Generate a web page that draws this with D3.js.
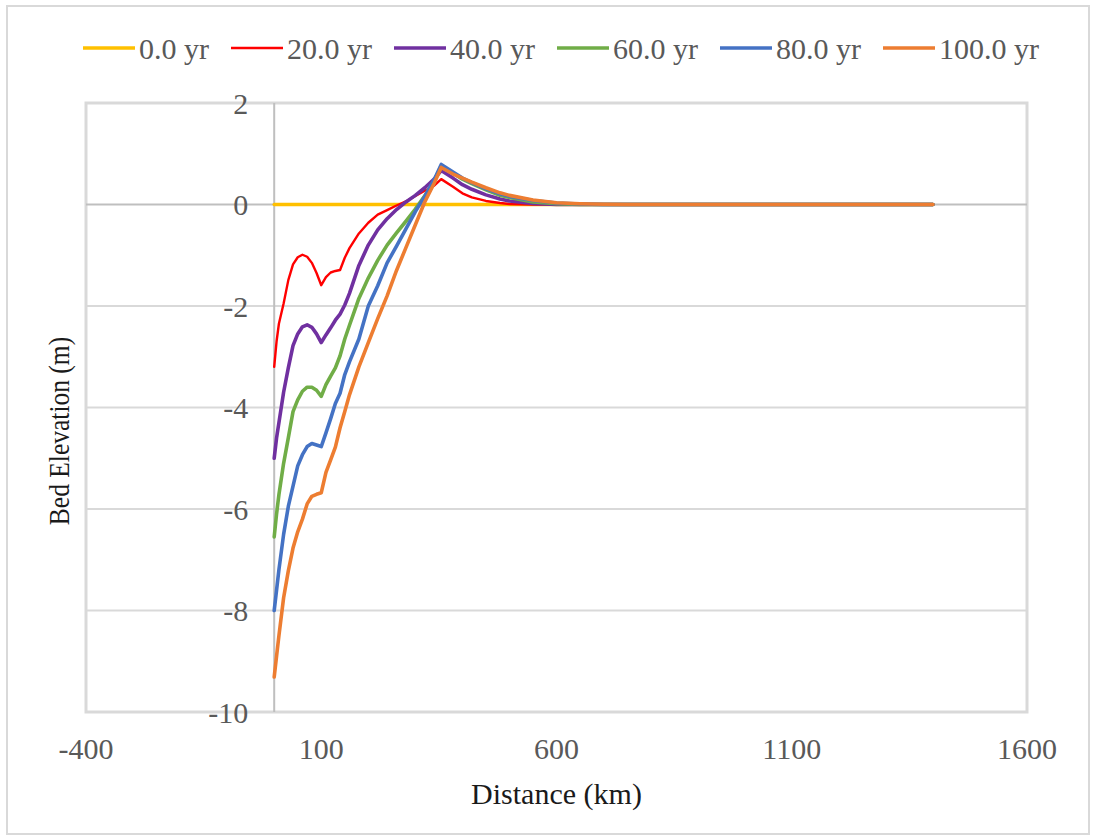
<!DOCTYPE html>
<html><head><meta charset="utf-8">
<script src="https://cdn.jsdelivr.net/npm/d3@7"></script>
<style>
body{margin:0;background:#fff}
svg{display:block}
</style>
</head><body><svg id="c" width="1096" height="840"></svg>
<script>
// ---- data ----
const distance = [0,5,10,20,30,40,50,60,70,80,90,100,110,120,130,140,150,160,180,200,220,240,260,280,300,320,340,355,380,400,420,450,480,500,550,600,650,700,750,800,900,1000,1100,1200,1300,1400];
const seriesNames = ["0.0 yr","20.0 yr","40.0 yr","60.0 yr","80.0 yr","100.0 yr"];
const yr0   = [0,0,0,0,0,0,0,0,0,0,0,0,0,0,0,0,0,0,0,0,0,0,0,0,0,0,0,0,0,0,0,0,0,0,0,0,0,0,0,0,0,0,0,0,0,0];
const yr20  = [-3.2,-2.7,-2.35,-1.95,-1.49,-1.18,-1.04,-0.99,-1.03,-1.15,-1.35,-1.59,-1.43,-1.34,-1.31,-1.29,-1.05,-0.86,-0.57,-0.36,-0.2,-0.11,-0.02,0.06,0.17,0.27,0.37,0.5,0.35,0.22,0.14,0.07,0.03,0.01,0,0,0,0,0,0,0,0,0,0,0,0];
const yr40  = [-5.0,-4.6,-4.3,-3.7,-3.22,-2.78,-2.55,-2.41,-2.37,-2.42,-2.55,-2.72,-2.57,-2.43,-2.28,-2.16,-1.98,-1.75,-1.2,-0.8,-0.5,-0.28,-0.1,0.05,0.18,0.33,0.5,0.67,0.52,0.39,0.3,0.19,0.11,0.07,0.02,0,0,0,0,0,0,0,0,0,0,0];
const yr60  = [-6.55,-6.1,-5.72,-5.1,-4.6,-4.08,-3.85,-3.68,-3.6,-3.6,-3.66,-3.78,-3.55,-3.38,-3.22,-2.98,-2.65,-2.38,-1.85,-1.45,-1.1,-0.8,-0.56,-0.33,-0.09,0.17,0.47,0.76,0.62,0.5,0.41,0.29,0.18,0.14,0.05,0.015,0,0,0,0,0,0,0,0,0,0];
const yr80  = [-8.0,-7.6,-7.2,-6.5,-5.95,-5.55,-5.15,-4.93,-4.77,-4.71,-4.74,-4.77,-4.5,-4.22,-3.92,-3.72,-3.35,-3.1,-2.65,-2.0,-1.6,-1.15,-0.82,-0.48,-0.14,0.16,0.49,0.79,0.64,0.52,0.43,0.31,0.21,0.16,0.08,0.03,0.01,0,0,0,0,0,0,0,0,0];
const yr100 = [-9.31,-8.9,-8.5,-7.75,-7.22,-6.77,-6.45,-6.2,-5.9,-5.75,-5.71,-5.68,-5.28,-5.03,-4.78,-4.4,-4.08,-3.75,-3.2,-2.72,-2.25,-1.8,-1.3,-0.85,-0.4,0.05,0.42,0.73,0.6,0.52,0.44,0.33,0.23,0.18,0.09,0.035,0.015,0.005,0,0,0,0,0,0,0,0];
const seriesValues = [yr0, yr20, yr40, yr60, yr80, yr100];
const xTicks = [-400,100,600,1100,1600];
const yTicks = [2,0,-2,-4,-6,-8,-10];
const xTitle = "Distance (km)";
const yTitle = "Bed Elevation (m)";

// ---- styles ----
const FONT = "Liberation Serif";
const colors = ["#FFC000","#FF0000","#7030A0","#70AD47","#4472C4","#ED7D31"];
const widths = [3.5,2.4,3.6,3.6,3.6,3.6];

const svg = d3.select("#c");
svg.append("rect").attr("x",7).attr("y",6).attr("width",1082).attr("height",828)
  .attr("fill","#fff").attr("stroke","#d9d9d9").attr("stroke-width",2);

const x = d3.scaleLinear().domain([-400,1600]).range([86,1027]);
const y = d3.scaleLinear().domain([-10,2]).range([712,103]);

// gridlines
svg.append("g").selectAll("line").data(yTicks.filter(v=>v!==0 && v!==2 && v!==-10)).join("line")
  .attr("x1",x(-400)).attr("x2",x(1600)).attr("y1",d=>y(d)).attr("y2",d=>y(d))
  .attr("stroke","#d9d9d9").attr("stroke-width",2);
// plot border
svg.append("rect").attr("x",x(-400)).attr("y",y(2)).attr("width",x(1600)-x(-400)).attr("height",y(-10)-y(2))
  .attr("fill","none").attr("stroke","#d9d9d9").attr("stroke-width",3);
// axis lines
svg.append("line").attr("x1",x(-400)).attr("x2",x(1600)).attr("y1",y(0)).attr("y2",y(0))
  .attr("stroke","#bfbfbf").attr("stroke-width",2);
svg.append("line").attr("x1",x(0)).attr("x2",x(0)).attr("y1",y(2)).attr("y2",y(-10))
  .attr("stroke","#bfbfbf").attr("stroke-width",2);

// y tick labels
svg.append("g").selectAll("text").data(yTicks).join("text")
  .attr("x",x(0)-26).attr("y",d=>y(d)).attr("dy","0.35em").attr("text-anchor","end")
  .attr("font-family",FONT).attr("font-size",30).attr("fill","#595959").text(d=>d);
// x tick labels
svg.append("g").selectAll("text").data(xTicks).join("text")
  .attr("x",d=>x(d)).attr("y",748).attr("dy","0.35em").attr("text-anchor","middle")
  .attr("font-family",FONT).attr("font-size",30).attr("fill","#595959").text(d=>d);

// titles
svg.append("text").attr("x",(x(-400)+x(1600))/2).attr("y",793).attr("dy","0.35em")
  .attr("text-anchor","middle").attr("font-family",FONT).attr("font-size",30).attr("fill","#1a1a1a").text(xTitle);
svg.append("text").attr("transform","translate(58,431) rotate(-90) scale(0.85,1)").attr("dy","0.35em")
  .attr("text-anchor","middle").attr("font-family",FONT).attr("font-size",30).attr("fill","#1a1a1a").text(yTitle);

// series
const line = d3.line().x(d=>x(d[0])).y(d=>y(d[1]));
seriesValues.forEach((vals,i)=>{
  svg.append("path").datum(distance.map((d,j)=>[d,vals[j]]))
    .attr("d",line).attr("fill","none").attr("stroke",colors[i]).attr("stroke-width",widths[i])
    .attr("stroke-linejoin","round").attr("stroke-linecap","round");
});

// legend
const lg = svg.append("g");
let cx = 83;
seriesNames.forEach((n,i)=>{
  lg.append("line").attr("x1",cx).attr("x2",cx+52).attr("y1",48).attr("y2",48)
    .attr("stroke",colors[i]).attr("stroke-width",widths[i]);
  const t = lg.append("text").attr("x",cx+56).attr("y",48).attr("dy","0.35em")
    .attr("font-family",FONT).attr("font-size",30).attr("fill","#595959").text(n);
  cx += 56 + t.node().getComputedTextLength() + 22;
});
</script>
</body></html>
